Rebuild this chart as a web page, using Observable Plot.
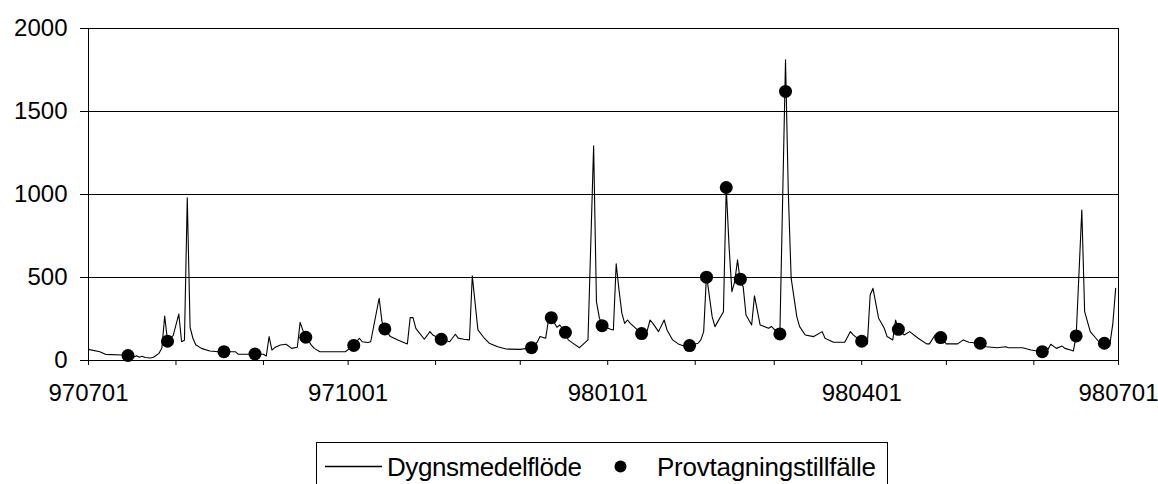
<!DOCTYPE html>
<html>
<head>
<meta charset="utf-8">
<script src="https://cdn.jsdelivr.net/npm/d3@7"></script>
<script src="https://cdn.jsdelivr.net/npm/@observablehq/plot@0.6"></script>
<style>
  body { margin: 0; background: #fff; }
  #chart { width: 1158px; height: 484px; overflow: hidden; font-family: "Liberation Sans", Arial, sans-serif; }
  #chart svg { display: block; }
</style>
</head>
<body>
<div id="chart"></div>
<script>
// Daily mean flow (Dygnsmedelflöde), dates as yymmdd
const flowDates = [
  "970701","970705","970707","970713","970715","970717","970718","970719","970720","970721",
  "970723","970724","970726","970727","970728","970729","970731","970802","970803","970804",
  "970805","970806","970807","970808","970810","970813","970816","970822","970823","970901",
  "970902","970903","970904","970905","970907","970909","970911","970913","970914","970915",
  "970916","970918","970919","970921","970930","971003","971005","971006","971008","971009",
  "971012","971013","971014","971016","971019","971022","971023","971024","971025","971028",
  "971030","971031","971103","971106","971108","971109","971111","971113","971114","971116",
  "971118","971120","971123","971126","971201","971205","971207","971208","971210","971211",
  "971212","971214","971215","971217","971218","971220","971222","971225","971227","971228",
  "971229","971230","980102","980103","980104","980105","980106","980107","980108","980109",
  "980113","980115","980116","980117","980119","980121","980122","980124","980126","980128",
  "980130","980202","980203","980204","980205","980207","980208","980211","980212","980213",
  "980214","980215","980216","980217","980218","980219","980221","980222","980224","980227",
  "980228","980301","980303","980305","980306","980307","980309","980310","980312","980315",
  "980318","980319","980322","980326","980328","980329","980401","980403","980404","980405",
  "980407","980409","980410","980412","980413","980414","980416","980418","980421","980424",
  "980425","980427","980429","980501","980505","980507","980509","980513","980515","980519",
  "980522","980523","980528","980531","980604","980606","980607","980609","980611","980612",
  "980614","980615","980616","980618","980619","980621","980623","980624","980626","980628",
  "980629","980630"
];
const flowValues = [
  67, 53, 37, 33, 30, 19, 28, 20, 26, 18,
  15, 20, 43, 75, 268, 118, 150, 280, 113, 122,
  980, 200, 134, 95, 73, 57, 53, 53, 38, 38,
  27, 144, 63, 78, 93, 98, 73, 80, 230, 180,
  140, 93, 73, 53, 53, 91, 134, 113, 108, 113,
  375, 234, 190, 144, 120, 100, 258, 258, 194, 128,
  174, 154, 128, 113, 158, 135, 128, 124, 510, 184,
  140, 104, 83, 69, 67, 77, 110, 144, 134, 244,
  258, 200, 214, 170, 124, 100, 77, 124, 1293, 355,
  260, 210, 188, 184, 582, 425, 285, 224, 244, 224,
  162, 180, 244, 224, 174, 244, 184, 124, 100, 87,
  90, 104, 124, 174, 515, 264, 204, 294, 1042, 686,
  415, 475, 606, 470, 445, 274, 214, 389, 214, 194,
  205, 188, 160, 1812, 1008, 496, 264, 204, 154, 144,
  174, 134, 110, 110, 174, 154, 113, 100, 395, 435,
  254, 194, 144, 124, 244, 188, 154, 174, 134, 100,
  100, 154, 138, 100, 100, 124, 110, 104, 83, 77,
  83, 77, 77, 63, 53, 67, 98, 73, 87, 73,
  63, 57, 148, 907, 294, 174, 134, 113, 104, 104,
  224, 435
];

// Sampling occasions (Provtagningstillfälle)
const sampleDates = [
  "970715","970729","970818","970829","970916","971003","971014","971103","971205","971212",
  "971217","971230","980113","980130","980205","980212","980217","980303","980305","980401",
  "980414","980429","980513","980604","980616","980626"
];
const sampleValues = [
  30, 116, 53, 39, 140, 91, 190, 128, 77, 258,
  170, 210, 162, 90, 502, 1042, 490, 160, 1621, 116,
  188, 138, 104, 53, 148, 104
];

const xTickLabels = ["970701", "971001", "980101", "980401", "980701"];
const yTicks = [0, 500, 1000, 1500, 2000];
const seriesNames = ["Dygnsmedelflöde", "Provtagningstillfälle"];

const parse = d3.utcParse("%y%m%d");
const fmt = d3.utcFormat("%y%m%d");

const flow = flowDates.map((d, i) => ({date: parse(d), value: flowValues[i]}));
const samples = sampleDates.map((d, i) => ({date: parse(d), value: sampleValues[i]}));

const start = parse(xTickLabels[0]);
const end = parse(xTickLabels[xTickLabels.length - 1]);
const monthTicks = d3.utcMonths(start, d3.utcDay.offset(end, 1));
const labelled = new Set(xTickLabels);

const font = "Liberation Sans, Arial, sans-serif";

const chart = Plot.plot({
  width: 1158,
  height: 420,
  marginLeft: 88,
  marginRight: 40,
  marginTop: 28,
  marginBottom: 60,
  style: {fontFamily: font, fontSize: "24px", color: "#000", background: "#fff"},
  x: {type: "utc", domain: [start, end], label: null},
  y: {domain: [0, 2000], label: null},
  marks: [
    Plot.ruleY(yTicks.filter(v => v > 0), {stroke: "#000", strokeWidth: 1}),
    Plot.frame({stroke: "#000", strokeWidth: 1}),
    Plot.axisY({ticks: yTicks, tickSize: 8, tickPadding: 13, fontSize: 24, label: null,
      tickFormat: d => String(d)}),
    Plot.axisX({ticks: monthTicks, tickSize: 5, tickPadding: 18, fontSize: 24, label: null,
      tickFormat: d => labelled.has(fmt(d)) ? fmt(d) : ""}),
    Plot.line(flow, {x: "date", y: "value", stroke: "#000", strokeWidth: 1.1}),
    Plot.dot(samples, {x: "date", y: "value", r: 6.5, fill: "#000", stroke: "none"})
  ]
});

const root = document.getElementById("chart");
root.appendChild(chart);

// Legend box below the plot
const lg = d3.select(root).append("svg")
  .attr("width", 1158).attr("height", 64)
  .style("font-family", font);
lg.append("rect")
  .attr("x", 316.5).attr("y", 22.5).attr("width", 571).attr("height", 70)
  .attr("fill", "none").attr("stroke", "#000").attr("stroke-width", 1);
lg.append("line")
  .attr("x1", 325).attr("x2", 382).attr("y1", 46.5).attr("y2", 46.5)
  .attr("stroke", "#000").attr("stroke-width", 1.3);
lg.append("text")
  .attr("x", 387).attr("y", 46.5).attr("dy", "0.36em")
  .attr("font-size", 26).attr("textLength", 195).text(seriesNames[0]);
lg.append("circle")
  .attr("cx", 620.5).attr("cy", 46.5).attr("r", 6).attr("fill", "#000");
lg.append("text")
  .attr("x", 657).attr("y", 46.5).attr("dy", "0.36em")
  .attr("font-size", 26).attr("textLength", 219).text(seriesNames[1]);
</script>
</body>
</html>
